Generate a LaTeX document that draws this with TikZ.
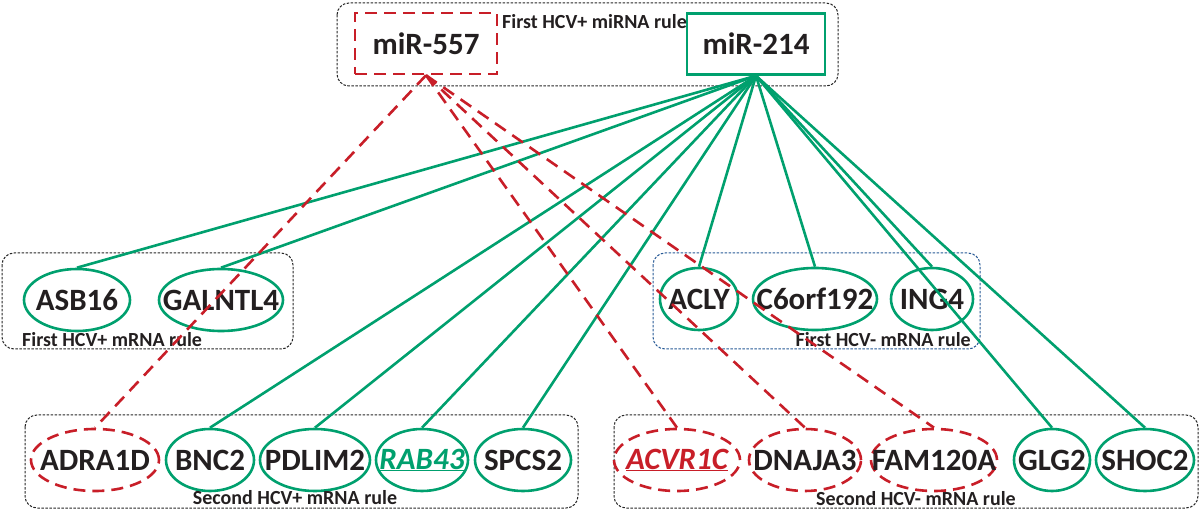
\documentclass[tikz,border=0pt]{standalone}
\usepackage{fontspec}
\setmainfont{Carlito}
\usetikzlibrary{shapes.geometric}
\definecolor{gr}{RGB}{0,160,110}
\definecolor{rd}{RGB}{200,30,40}
\definecolor{bl}{RGB}{40,90,150}
\definecolor{tx}{RGB}{35,31,32}
\begin{document}
\begin{tikzpicture}[x=1pt,y=-1pt,
 gene/.style={ellipse, draw=gr, line width=2.6pt, inner sep=0pt, minimum height=62pt},
 rgene/.style={gene, draw=rd, dash pattern=on 12pt off 7pt},
 gtext/.style={font=\fontsize{31}{31}\selectfont\bfseries, text=tx, inner sep=0pt},
 mirbox/.style={rectangle, line width=2.6pt, inner sep=0pt, minimum height=61pt, font=\fontsize{31}{31}\selectfont\bfseries, text=tx},
 grp/.style={draw=black!85, dash pattern=on 2.5pt off 1.5pt, line width=1pt, rounded corners=12pt},
 lbl/.style={font=\fontsize{20}{20}\selectfont\bfseries, text=tx, inner sep=0pt},
 gl/.style={draw=gr, line width=2.6pt},
 rl/.style={draw=rd, line width=2.6pt, dash pattern=on 13pt off 8pt}]
\useasboundingbox (0,0) rectangle (1200,510);
% group boxes
\draw[grp] (337,3) rectangle (838,86);
\draw[grp] (2,253) rectangle (293,349);
\draw[grp, draw=bl] (653,253) rectangle (980,349);
\draw[grp] (25,415) rectangle (578,508);
\draw[grp] (614,415) rectangle (1198,508);
% miRNAs
\node[mirbox, draw=rd, dash pattern=on 12pt off 7pt, minimum width=142pt] (mir557) at (426,43.5) {miR-557};
\node[mirbox, draw=gr, minimum width=138pt] (mir214) at (756,44) {miR-214};
\node[lbl, anchor=west] (l1) at (502,22) {First HCV+ miRNA rule};
% first HCV+ mRNA
\node[gene, minimum width=106pt, label={[gtext]center:ASB16}] (asb16) at (77,300) {};
\node[gene, minimum width=124pt, label={[gtext]center:GALNTL4}] (galntl4) at (221,300) {};
\node[lbl, anchor=west] (l2) at (22,340) {First HCV+ mRNA rule};
% first HCV- mRNA
\node[gene, minimum width=78pt, label={[gtext]center:ACLY}] (acly) at (699,299) {};
\node[gene, minimum width=124pt, label={[gtext]center:C6orf192}] (c6) at (815,299) {};
\node[gene, minimum width=82pt, label={[gtext]center:ING4}] (ing4) at (932,299) {};
\node[lbl, anchor=east] (l3) at (971,340) {First HCV- mRNA rule};
% second HCV+ mRNA
\node[rgene, minimum width=128pt, label={[gtext]center:ADRA1D}] (adra) at (95,460) {};
\node[gene, minimum width=88pt, label={[gtext]center:BNC2}] (bnc2) at (210,460) {};
\node[gene, minimum width=110pt, label={[gtext]center:PDLIM2}] (pdlim2) at (315,460) {};
\node[gene, minimum width=92pt, label={[gtext, text=gr]center:\underline{\itshape RAB43}}] (rab43) at (422,460) {};
\node[gene, minimum width=96pt, label={[gtext]center:SPCS2}] (spcs2) at (523,460) {};
\node[lbl] (l4) at (295,498) {Second HCV+ mRNA rule};
% second HCV- mRNA
\node[rgene, minimum width=126pt, label={[gtext, text=rd]center:\underline{\itshape ACVR1C}}] (acvr) at (677,460) {};
\node[rgene, minimum width=112pt, label={[gtext]center:DNAJA3}] (dnaja) at (805,460) {};
\node[rgene, minimum width=126pt, label={[gtext]center:FAM120A}] (fam) at (934,460) {};
\node[gene, minimum width=76pt, label={[gtext]center:GLG2}] (glg2) at (1052,460) {};
\node[gene, minimum width=98pt, label={[gtext]center:SHOC2}] (shoc2) at (1145,460) {};
\node[lbl] (l5) at (916,499) {Second HCV- mRNA rule};
% green connectors
\foreach \t in {asb16,galntl4,bnc2,pdlim2,rab43,spcs2,acly,c6,ing4,glg2,shoc2}
  \draw[gl] (mir214.south) -- (\t.north);
% red connectors
\foreach \t in {adra,acvr,dnaja,fam}
  \draw[rl] (mir557.south) -- (\t.north);
\end{tikzpicture}
\end{document}
